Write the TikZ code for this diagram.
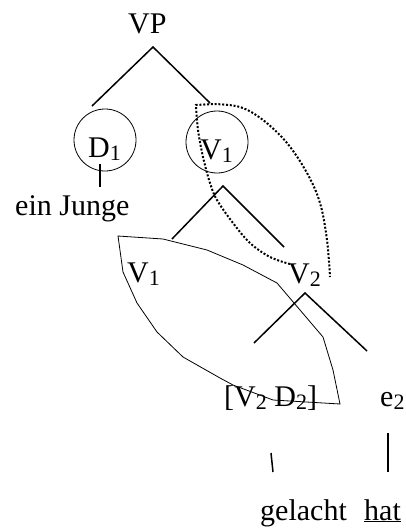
\documentclass[tikz,border=0pt]{standalone}
\usepackage{fontspec}
\setmainfont{Liberation Serif}
\newcommand{\sbs}[1]{\raisebox{-3.5pt}{\fontsize{22}{22}\selectfont #1}}
\begin{document}
\begin{tikzpicture}[x=1pt,y=-1pt,
  lbl/.style={anchor=base west,inner sep=0pt,font=\fontsize{30}{35}\selectfont},
  branch/.style={line width=1.5pt},
  thin/.style={line width=0.8pt},
  dots/.style={line width=2pt,dash pattern=on 2pt off 1.8pt}]
\useasboundingbox (0,0) rectangle (406,530);
% texts
\node[lbl] (vp) at (128,33) {VP};
\node[lbl] (d1) at (88,157) {D\sbs{1}};
\node[lbl] (v1top) at (200,159) {V\sbs{1}};
\node[lbl] (junge) at (15,215) {ein Junge};
\node[lbl] (v1low) at (127,282) {V\sbs{1}};
\node[lbl] (v2) at (288,283) {V\sbs{2}};
\node[lbl] (vd) at (224,406) {[V\sbs{2} D\sbs{2}]};
\node[lbl] (e2) at (380,406) {e\sbs{2}};
\node[lbl] (gel) at (260,520) {gelacht};
\node[lbl] (hat) at (364,520) {\underline{hat}};
% circles
\node[draw,circle,thin,minimum size=62pt,inner sep=0pt] (cd1) at (105,140) {};
\node[draw,circle,thin,minimum size=62pt,inner sep=0pt] (cv1) at (217,142) {};
% tree coordinates
\coordinate (a0) at (153,47);
\coordinate (a0l) at (92,106);
\coordinate (a0r) at (210,103);
\coordinate (a1) at (223,186);
\coordinate (a1l) at (172,239);
\coordinate (a1r) at (284,247);
\coordinate (a2) at (305,293);
\coordinate (a2l) at (254,343);
\coordinate (a2r) at (367,351);
\coordinate (j1) at (100,164);
\coordinate (j2) at (100,187);
\coordinate (g1) at (271,453);
\coordinate (g2) at (273,472);
\coordinate (h1) at (388,433);
\coordinate (h2) at (388,472);
\draw[branch] (a0l) -- (a0) -- (a0r);
\draw[branch] (a1l) -- (a1) -- (a1r);
\draw[branch] (a2l) -- (a2) -- (a2r);
\draw[line width=1.1pt] (j1) -- (j2);
\draw[branch] (g1) -- (g2);
\draw[branch] (h1) -- (h2);
% thin polygon
\draw[thin] (118,236) -- (163,239) -- (207,250) -- (243,265) -- (277,283) -- (300,310)
  -- (323,337) -- (333,370) -- (340,404) -- (273,400) -- (233,385) -- (220,378)
  -- (183,357) -- (157,332) -- (137,303) -- (123,272) -- cycle;
% dotted curve
\draw[dots] plot[smooth,tension=0.6] coordinates {(290,264) (270,257) (250,243) (233,223) (217,200) (210,183) (203,157) (198,130) (196,105)}
  -- plot[smooth,tension=0.6] coordinates {(213,104) (240,107) (263,120) (287,143) (307,173) (320,203) (327,240) (330,277)};
\end{tikzpicture}
\end{document}
